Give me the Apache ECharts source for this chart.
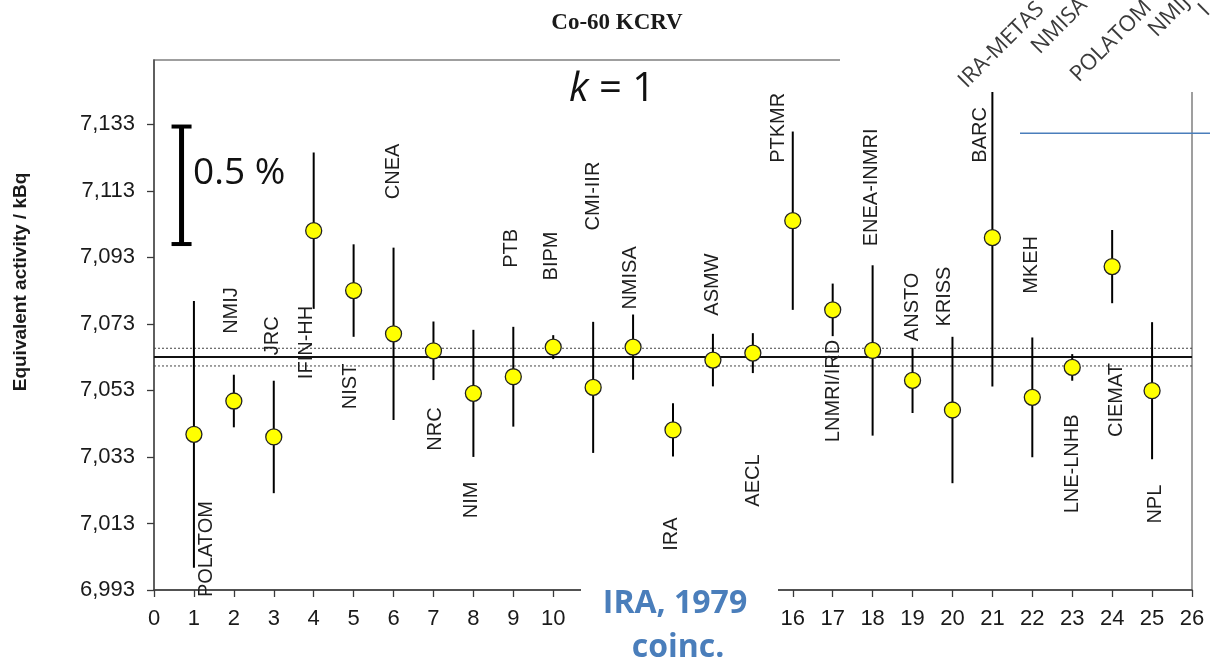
<!DOCTYPE html>
<html><head><meta charset="utf-8">
<script src="https://cdn.jsdelivr.net/npm/echarts@6/dist/echarts.min.js"></script>
<style>html,body{margin:0;padding:0;background:#fff}#c{width:1210px;height:664px}</style>
</head><body><div id="c"></div>
<script>
// ---- data ----
const labs = ['POLATOM','NMIJ','JRC','IFIN-HH','NIST','CNEA','NRC','NIM','PTB','BIPM','CMI-IIR','NMISA','IRA','ASMW','AECL','PTKMR','LNMRI/IRD','ENEA-INMRI','ANSTO','KRISS','BARC','MKEH','LNE-LNHB','CIEMAT','NPL'];
const values = [7.0398,7.0498,7.0390,7.1010,7.0830,7.0700,7.0649,7.0521,7.0571,7.0660,7.0539,7.0660,7.0411,7.0621,7.0642,7.1040,7.0772,7.0650,7.0560,7.0471,7.0989,7.0509,7.0599,7.0902,7.0529];
const unc = [0.0401,0.0079,0.0169,0.0235,0.0139,0.0259,0.0088,0.0191,0.0150,0.0036,0.0197,0.0098,0.0080,0.0079,0.0060,0.0268,0.0079,0.0256,0.0098,0.0220,0.0447,0.0180,0.0040,0.0110,0.0206];
// label anchor (centre of rotated label), in axis units
const labelX = [1.32,1.95,2.98,3.81,4.91,5.99,7.04,7.96,8.96,9.96,11.0,11.94,12.97,14.0,15.01,15.64,17.01,17.98,18.99,19.81,20.69,21.99,23.0,24.12,25.08];
const labelY = [7.0053,7.0770,7.0694,7.0674,7.0542,7.1188,7.0414,7.0201,7.0957,7.0934,7.1114,7.0868,7.0098,7.0848,7.0259,7.1319,7.0528,7.1140,7.0781,7.0812,7.1298,7.0907,7.0309,7.0501,7.0188];
const kcrv = 7.0630;
const kcrvUnc = 0.00266;
const yTicks = [6.993,7.013,7.033,7.053,7.073,7.093,7.113,7.133];
const scaleBarTop = 7.1323;   // top of the 0.5 % bar
const scaleBarPct = 0.5;
const scaleBarX = 0.69;
const topLabels = ['IRA-METAS','NMISA','POLATOM','NMIJ','I'];

const chart = echarts.init(document.getElementById('c'), null, {renderer:'canvas'});
const idx = values.map((v,i)=>i+1);
const txtFont = '"Liberation Sans", Arial, sans-serif';

const option = {
  animation:false,
  backgroundColor:'#fff',
  grid:{left:154,right:18,top:60,bottom:74,show:true,borderColor:'#808080',borderWidth:1.5,backgroundColor:'transparent'},
  xAxis:{type:'value',min:0,max:26,interval:1,
    axisLine:{onZero:false,lineStyle:{color:'#3a3a3a',width:1.5}},
    axisTick:{length:7,lineStyle:{color:'#3a3a3a',width:1.3}},
    axisLabel:{margin:18,color:'#1a1a1a',fontSize:22,fontFamily:txtFont},
    splitLine:{show:false}},
  yAxis:{type:'value',min:6.993,max:7.1523,interval:0.02,
    axisLine:{show:true,onZero:false,lineStyle:{color:'#4a4a4a',width:1.5}},
    axisTick:{show:true,length:7,customValues:yTicks,lineStyle:{color:'#3a3a3a',width:1.3}},
    axisLabel:{margin:19,color:'#1a1a1a',fontSize:22,fontFamily:txtFont,customValues:yTicks,
      formatter:v=>v.toFixed(3).replace('.',',')},
    splitLine:{show:false}},
  series:[
    {type:'line',data:[[0,kcrv],[26,kcrv]],symbol:'none',lineStyle:{color:'#111',width:2},z:1},
    {type:'line',data:[[0,kcrv+kcrvUnc],[26,kcrv+kcrvUnc]],symbol:'none',lineStyle:{color:'#444',width:1,type:[2,2]},z:1},
    {type:'line',data:[[0,kcrv-kcrvUnc],[26,kcrv-kcrvUnc]],symbol:'none',lineStyle:{color:'#444',width:1,type:[2,2]},z:1},
    {type:'custom',z:2,
      data:values.map((v,i)=>[idx[i],v,unc[i]]),
      renderItem:(p,api)=>{
        const x=api.value(0),v=api.value(1),u=api.value(2);
        const a=api.coord([x,v+u]),b=api.coord([x,v-u]);
        return {type:'line',shape:{x1:a[0],y1:a[1],x2:b[0],y2:b[1]},style:{stroke:'#000',lineWidth:2}};
      }},
    {type:'scatter',z:3,data:values.map((v,i)=>[idx[i],v]),symbolSize:16,
      itemStyle:{color:'#ffff00',borderColor:'#222',borderWidth:1.3,opacity:1}},
    {type:'custom',z:4,
      data:labs.map((l,i)=>[labelX[i],labelY[i]]),
      renderItem:(p,api)=>{
        const c=api.coord([api.value(0),api.value(1)]);
        return {type:'text',x:c[0],y:c[1],rotation:Math.PI/2,
          style:{text:labs[p.dataIndex],fontSize:20,fontFamily:txtFont,fill:'#1e1e1e',align:'center',verticalAlign:'middle'}};
      }},
    {type:'custom',z:4,
      data:[[scaleBarX,scaleBarTop,scaleBarPct]],
      renderItem:(p,api)=>{
        const x=api.value(0),t=api.value(1),pct=api.value(2);
        const a=api.coord([x,t]),b=api.coord([x,t-kcrv*pct/100]);
        return {type:'group',children:[
          {type:'rect',shape:{x:a[0]-2.5,y:a[1],width:5,height:b[1]-a[1]},style:{fill:'#000'}},
          {type:'rect',shape:{x:a[0]-10,y:a[1]-2,width:20,height:4},style:{fill:'#000'}},
          {type:'rect',shape:{x:a[0]-10,y:b[1]-2,width:20,height:4},style:{fill:'#000'}}
        ]};
      }}
  ],
  graphic:[
    // covers (pasted-over areas in the original)
    {type:'rect',z:100,shape:{x:581,y:586,width:197,height:78},style:{fill:'#fff'}},
    {type:'rect',z:100,shape:{x:840,y:0,width:370,height:92},style:{fill:'#fff'}},
    {type:'text',z:110,x:617,y:23,style:{text:'Co-60 KCRV',font:'bold 23px "Liberation Serif", "Times New Roman", serif',fill:'#1a1a1a',align:'center',verticalAlign:'middle'}},
    {type:'text',z:110,x:612,y:90,style:{text:'{i|k} = 1',font:'40px "Open Sans", sans-serif',fill:'#111',align:'center',verticalAlign:'middle',
      rich:{i:{fontStyle:'italic',fontSize:40,fontFamily:'"Open Sans", sans-serif',fill:'#111'}}}},
    {type:'text',z:110,x:193,y:173,style:{text:'0.5 %',font:'37px "Open Sans", sans-serif',fill:'#111',align:'left',verticalAlign:'middle'}},
    {type:'text',z:110,x:21,y:282,rotation:Math.PI/2,style:{text:'Equivalent activity / kBq',font:'bold 19px "Liberation Sans", Arial, sans-serif',fill:'#1a1a1a',align:'center',verticalAlign:'middle'}},
    {type:'text',z:110,x:675,y:604,style:{text:'IRA, 1979',font:'bold 32px "Open Sans", sans-serif',fill:'#4a7ebb',align:'center',verticalAlign:'middle'}},
    {type:'text',z:110,x:678,y:648,style:{text:'coinc.',font:'bold 32px "Open Sans", sans-serif',fill:'#4a7ebb',align:'center',verticalAlign:'middle'}},
    {type:'line',z:110,shape:{x1:1020,y1:133.3,x2:1210,y2:133.3},style:{stroke:'#4a7ebb',lineWidth:1.5}},
    {type:'text',z:110,x:970,y:92,rotation:Math.PI/4,style:{text:topLabels[0],font:'22px "Open Sans", sans-serif',fill:'#3a3a3a',align:'left',verticalAlign:'bottom'}},
    {type:'text',z:110,x:1043,y:58,rotation:Math.PI/4,style:{text:topLabels[1],font:'22px "Open Sans", sans-serif',fill:'#3a3a3a',align:'left',verticalAlign:'bottom'}},
    {type:'text',z:110,x:1082,y:86,rotation:Math.PI/4,style:{text:topLabels[2],font:'22px "Open Sans", sans-serif',fill:'#3a3a3a',align:'left',verticalAlign:'bottom'}},
    {type:'text',z:110,x:1160,y:41,rotation:Math.PI/4,style:{text:topLabels[3],font:'22px "Open Sans", sans-serif',fill:'#3a3a3a',align:'left',verticalAlign:'bottom'}},
    {type:'text',z:110,x:1210,y:20,rotation:Math.PI/4,style:{text:topLabels[4],font:'22px "Open Sans", sans-serif',fill:'#3a3a3a',align:'left',verticalAlign:'bottom'}}
  ]
};
chart.setOption(option);
</script></body></html>
